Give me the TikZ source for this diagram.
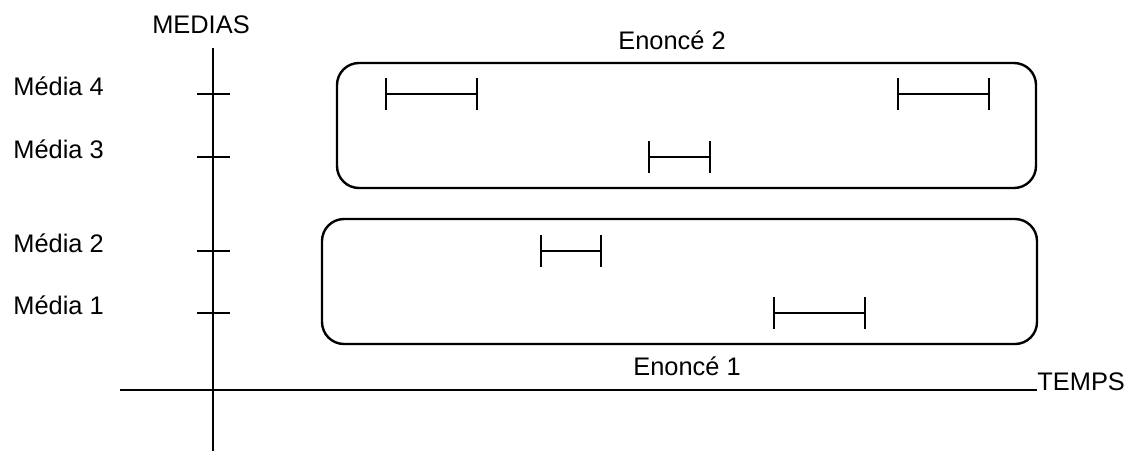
\documentclass[tikz,border=0pt]{standalone}
\usepackage{fontspec}
\setmainfont{Liberation Sans}
\usetikzlibrary{positioning,arrows.meta}

\begin{document}
\begin{tikzpicture}[
  x = 0.5pt,
  y = -0.5pt,
  label/.style = {
    font = \fontsize{12.7}{15}\selectfont,
    inner sep = 0pt,
    anchor = base,
  },
  enonce/.style = {
    draw,
    line width = 1.2pt,
    rounded corners = 11pt,
    minimum height = 62.5pt,
    inner sep = 0pt,
  },
  axis/.style = {line width = 1pt},
  interval/.style = {line width = 1pt, {Bar[width=16pt]}-{Bar[width=16pt]}},
]
  \useasboundingbox (0,0) rectangle (1131,451);

  % axes
  \coordinate (ytop) at (213,48);
  \coordinate (ybot) at (213,451);
  \coordinate (xleft) at (120,390);
  \coordinate (xright) at (1037,390);
  \draw[axis] (ytop) -- (ybot);
  \draw[axis] (xleft) -- (xright);
  \node[label] (medias) at (201,33) {MEDIAS};
  \node[label, anchor=base west] (temps) at (1037,390) {TEMPS};

  % media ticks
  \foreach \y/\n in {94/4, 157/3, 251/2, 313/1} {
    \coordinate (tl\n) at (197,\y);
    \coordinate (tr\n) at (230,\y);
    \draw[axis] (tl\n) -- (tr\n);
    \node[label, anchor=base west] (media\n) at (13,{\y+1}) {Média \n};
  }

  % enonces
  \node[enonce, minimum width=349.5pt] (enonce2) at (686.5,125.5) {};
  \node[enonce, minimum width=357.5pt] (enonce1) at (679.5,281.5) {};
  \node[label] (lab2) at (672,49) {Enoncé 2};
  \node[label] (lab1) at (687,375) {Enoncé 1};

  % intervals
  \foreach \a/\b/\y [count=\i] in {385/478/94, 897/990/94, 648/711/157, 540/602/251, 773/866/313} {
    \coordinate (ia\i) at (\a,\y);
    \coordinate (ib\i) at (\b,\y);
    \draw[interval] (ia\i) -- (ib\i);
  }
\end{tikzpicture}
\end{document}
